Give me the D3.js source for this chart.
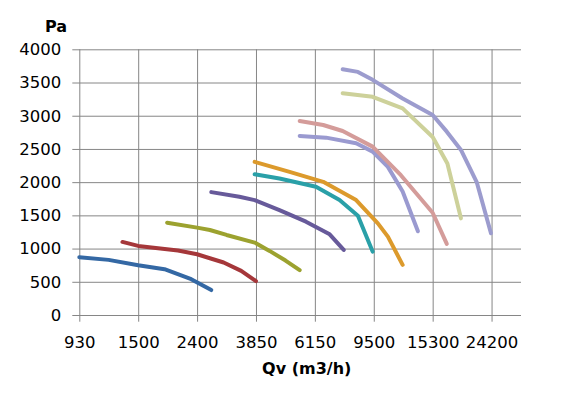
<!DOCTYPE html>
<html>
<head>
<meta charset="utf-8">
<script src="https://cdn.jsdelivr.net/npm/d3@7"></script>
<style>
    body { margin: 0; background: #fff; }
    svg text { font-family: "DejaVu Sans", sans-serif; fill: #000; }
</style>
</head>
<body>
<svg id="chart" width="580" height="393"></svg>
<script>
// x axis labels (m3/h), equally spaced on the axis
var xTicks = [930, 1500, 2400, 3850, 6150, 9500, 15300, 24200];
var yTicks = [0, 500, 1000, 1500, 2000, 2500, 3000, 3500, 4000];

// fan curves: flow (m3/h) / pressure (Pa)
var q1 = [930, 1180, 1500, 1850, 2290, 2690];
var p1 = [870, 830, 750, 690, 540, 375];
var q2 = [1320, 1500, 2060, 2400, 2970, 3420, 3850];
var p2 = [1100, 1040, 970, 915, 790, 665, 510];
var q3 = [1890, 2400, 2660, 3040, 3810, 4290, 4870, 5450];
var p3 = [1390, 1315, 1280, 1205, 1090, 965, 820, 675];
var q4 = [2690, 3370, 3810, 4640, 5730, 6860, 7610];
var p4 = [1850, 1780, 1730, 1580, 1405, 1215, 980];
var q5 = [3810, 4640, 6200, 7380, 8450, 9420];
var p5 = [2120, 2055, 1930, 1730, 1495, 955];
var q6 = [3810, 5030, 6540, 8340, 9820, 10650, 12000];
var p6 = [2305, 2155, 2005, 1730, 1380, 1180, 755];
var q7 = [5450, 6680, 8340, 9420, 10650, 12000, 13580];
var p7 = [2695, 2670, 2585, 2460, 2230, 1860, 1260];
var q8 = [5450, 6540, 7550, 9420, 11830, 15300, 17080];
var p8 = [2920, 2860, 2770, 2535, 2105, 1540, 1070];
var q9 = [7550, 9420, 12000, 15300, 17160, 19070];
var p9 = [3340, 3285, 3110, 2680, 2280, 1455];
var q10 = [7550, 8450, 9420, 12000, 15300, 17080, 19070, 21580, 24090];
var p10 = [3700, 3660, 3540, 3260, 3010, 2760, 2485, 1995, 1230];

var colors = ["#3468a4", "#a5373a", "#9ca22f", "#675a9a", "#2aa0a8",
              "#dc9a2c", "#9a9ad0", "#d49c9a", "#cdd19a", "#9c9cce"];

var series = [[q1, p1], [q2, p2], [q3, p3], [q4, p4], [q5, p5],
              [q6, p6], [q7, p7], [q8, p8], [q9, p9], [q10, p10]];

var margin = {left: 79.3, top: 49.3, right: 59, bottom: 78},
    width = 580,
    height = 393,
    plotW = width - margin.left - margin.right,
    plotH = height - margin.top - margin.bottom;

var step = plotW / 7.5;

// piecewise log scale: each label one step apart, half a step of room after the last
var xDomain = xTicks.concat([24200 * Math.sqrt(24200 / 15300)]);
var xRange = xDomain.map(function (d, i) { return i < xTicks.length ? i * step : 7.5 * step; });

var x = d3.scaleLog().domain(xDomain).range(xRange);
var y = d3.scaleLinear().domain([0, 4000]).range([plotH, 0]);

var svg = d3.select("#chart");
var g = svg.append("g")
    .attr("transform", "translate(" + margin.left + "," + margin.top + ")");

// y gridlines + labels
var yAxis = g.append("g")
    .call(d3.axisLeft(y).tickValues(yTicks).tickSize(-plotW).tickPadding(18).tickFormat(d3.format("d")));
yAxis.select(".domain").remove();
yAxis.selectAll("line").attr("x1", -7).attr("stroke", "#868686");
yAxis.selectAll("text").style("font-size", "16.5px");

// x gridlines + labels
var xAxis = g.append("g")
    .attr("transform", "translate(0," + plotH + ")")
    .call(d3.axisBottom(x).tickValues(xTicks).tickSize(-plotH).tickPadding(21).tickFormat(d3.format("d")));
xAxis.select(".domain").remove();
xAxis.selectAll("line").attr("y1", 6.7).attr("stroke", "#868686");
xAxis.selectAll("text").style("font-size", "16.5px");

var line = d3.line()
    .x(function (d) { return x(d[0]); })
    .y(function (d) { return y(d[1]); });

g.selectAll("path.curve")
    .data(series)
    .enter()
    .append("path")
    .attr("class", "curve")
    .attr("d", function (s) {
        return line(s[0].map(function (q, i) { return [q, s[1][i]]; }));
    })
    .attr("fill", "none")
    .attr("stroke", function (d, i) { return colors[i]; })
    .attr("stroke-width", 4)
    .attr("stroke-linecap", "round")
    .attr("stroke-linejoin", "round");

// axis titles
svg.append("text")
    .attr("x", 56)
    .attr("y", 32)
    .attr("text-anchor", "middle")
    .style("font-size", "16px")
    .style("font-weight", "bold")
    .text("Pa");

svg.append("text")
    .attr("x", 306.7)
    .attr("y", 374)
    .attr("text-anchor", "middle")
    .style("font-size", "16px")
    .style("font-weight", "bold")
    .text("Qv (m3/h)");
</script>
</body>
</html>
